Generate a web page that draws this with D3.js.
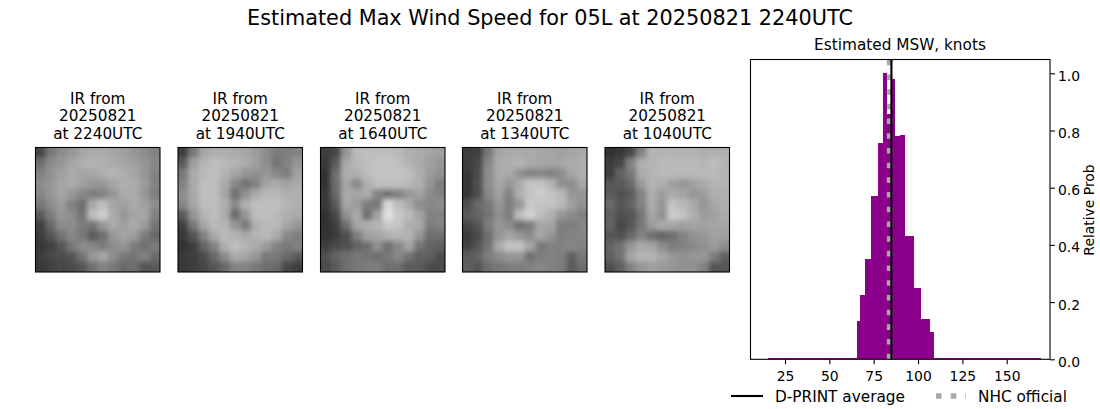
<!DOCTYPE html>
<html><head><meta charset="utf-8">
<script src="https://cdn.jsdelivr.net/npm/d3@7/dist/d3.min.js"></script>
<style>html,body{margin:0;padding:0;background:#fff}svg{display:block}text{font-family:"DejaVu Sans";fill:#000}</style>
</head><body><div id="chart"></div>
<script>
const mainTitle = "Estimated Max Wind Speed for 05L at 20250821 2240UTC";
const histTitle = "Estimated MSW, knots";
const yLabel = "Relative Prob";
const legendLabels = ["D-PRINT average", "NHC official"];
const panelTimes = ["2240UTC", "1940UTC", "1640UTC", "1340UTC", "1040UTC"];
const panelDate = "20250821";
const binEdges = [15.4,65.6,67.3,70.1,73.5,77.5,80.3,82.5,84.8,87,89.9,92.7,97.8,101.7,106.8,109,169.4];
const binProbs = [0.006,0.135,0.225,0.35,0.57,0.755,1.0,0.857,0.98,0.78,0.785,0.43,0.25,0.14,0.095,0.006];
const xTicks = [25,50,75,100,125,150];
const yTicks = [0,0.2,0.4,0.6,0.8,1.0];
const dprintAverage = 85;
const nhcOfficial = 84;
const ir2240 = [
[70,120,140,150,165,170,170,165,160,150,140,130],
[110,140,150,165,175,180,175,170,165,160,150,135],
[130,145,160,170,165,165,175,180,175,165,150,130],
[140,150,165,170,160,150,150,165,175,170,155,130],
[135,150,165,150,135,125,130,150,170,170,150,125],
[120,140,155,130,110,170,190,165,160,170,160,140],
[90,125,150,140,115,190,205,170,150,165,165,130],
[65,105,140,140,125,115,150,170,160,170,155,115],
[60,85,115,135,120,90,110,150,165,155,125,105],
[55,65,85,120,140,135,125,140,150,125,110,125],
[60,70,75,85,115,150,165,140,120,115,130,105],
[55,65,70,75,85,110,130,120,105,110,85,90]];
const ir1940 = [
[60,120,165,175,175,170,165,155,140,125,125,130],
[90,160,180,190,185,180,170,160,140,115,130,150],
[120,170,185,190,180,165,150,145,150,135,125,160],
[130,170,190,190,170,135,115,130,165,170,160,170],
[140,170,190,190,165,110,145,170,185,185,175,175],
[135,165,190,190,175,135,175,190,190,190,180,175],
[90,150,180,190,170,105,150,190,190,185,175,170],
[65,120,165,185,180,150,120,175,185,185,165,150],
[55,85,130,170,185,180,170,180,185,170,135,125],
[50,60,100,130,175,190,180,170,155,130,120,130],
[55,60,75,105,140,170,165,150,120,120,105,90],
[55,60,70,85,105,130,130,120,110,105,70,60]];
const ir1640 = [
[60,70,150,185,190,190,190,185,175,170,165,160],
[55,90,170,185,190,195,195,190,180,170,160,150],
[50,110,175,175,190,195,195,195,190,175,155,145],
[50,110,165,135,175,190,190,190,185,175,150,125],
[55,105,170,165,170,130,115,130,150,160,140,130],
[55,90,165,155,125,120,215,190,170,140,135,140],
[50,75,145,170,110,160,225,200,185,165,130,130],
[50,60,110,165,175,180,200,195,175,170,125,130],
[50,60,80,125,160,165,175,180,180,150,110,110],
[60,75,80,100,110,145,110,135,165,115,100,95],
[80,100,110,120,115,110,120,135,115,95,95,75],
[75,90,110,120,125,125,110,110,90,90,75,75]];
const ir1340 = [
[60,65,120,165,170,170,170,165,165,160,165,170],
[60,70,135,170,175,180,170,165,165,165,170,175],
[55,75,140,170,170,145,130,135,130,140,165,175],
[55,80,140,165,150,170,195,195,180,145,140,165],
[55,80,135,160,130,175,195,205,195,185,150,150],
[80,105,120,150,125,150,200,195,195,185,160,145],
[90,100,115,145,125,190,210,190,175,150,140,130],
[70,85,125,150,140,110,125,165,165,125,125,135],
[60,75,110,150,165,150,140,165,150,125,130,135],
[65,85,115,170,195,195,165,120,130,130,135,130],
[90,100,125,140,150,150,110,125,130,125,95,120],
[95,85,110,120,125,125,130,135,130,125,90,110]];
const ir1040 = [
[50,55,70,130,180,180,180,180,180,175,175,175],
[60,70,130,175,180,185,185,185,185,180,190,180],
[60,100,120,170,180,185,185,185,185,185,185,180],
[85,90,105,155,180,175,160,150,160,170,180,180],
[90,80,90,130,175,155,170,165,150,155,175,175],
[105,85,100,130,170,150,195,185,170,150,165,175],
[95,80,85,115,165,145,205,195,175,155,160,170],
[100,70,85,120,155,170,165,160,165,160,165,165],
[85,80,105,130,110,100,110,130,145,150,160,160],
[100,115,150,170,165,140,125,130,135,145,155,140],
[95,115,165,180,180,165,150,145,150,150,125,95],
[80,95,130,150,160,155,150,145,145,130,85,85]];
const irPanels = [ir2240, ir1940, ir1640, ir1340, ir1040];

const W = 1100, H = 409;
const svg = d3.select("#chart").append("svg").attr("width", W).attr("height", H);
const defs = svg.append("defs");
defs.append("filter").attr("id","soft").attr("x","-10%").attr("y","-10%").attr("width","120%").attr("height","120%")
  .append("feGaussianBlur").attr("stdDeviation", 2.4);

svg.append("text").attr("x",550).attr("y",25).attr("text-anchor","middle").style("font-size","20.8px").text(mainTitle);

// IR panels
const panelLefts = [35.5,178,320.5,462.5,605];
const panelSize = 124.5, panelTop = 147.5;
const gray = d3.scaleLinear().domain([0,255]).range(["#000","#fff"]);
irPanels.forEach((grid,p) => {
  const n = grid.length;
  const pos = d3.scaleLinear().domain([0,n]).range([0,panelSize]);
  const g = svg.append("g").attr("transform",`translate(${panelLefts[p]},${panelTop})`);
  const cid = "clip"+p;
  defs.append("clipPath").attr("id",cid).append("rect").attr("width",panelSize).attr("height",panelSize);
  const clip = g.append("g").attr("clip-path",`url(#${cid})`);
  const blur = clip.append("g").attr("filter","url(#soft)");
  const idx = d3.range(-2,n+2);
  const cl = i => Math.max(0,Math.min(n-1,i));
  idx.forEach(r => idx.forEach(c => {
    blur.append("rect").attr("x",pos(c)).attr("y",pos(r))
      .attr("width",pos(1)+0.5).attr("height",pos(1)+0.5)
      .attr("fill",gray(grid[cl(r)][cl(c)]));
  }));
  g.append("rect").attr("width",panelSize).attr("height",panelSize).attr("fill","none").attr("stroke","#000").attr("stroke-width",1.1);
  const lines = ["IR from", panelDate, "at "+panelTimes[p]];
  lines.forEach((t,i) => g.append("text").attr("x",panelSize/2).attr("y",-44+i*17.6)
    .attr("text-anchor","middle").style("font-size","15.25px").text(t));
});

// Histogram
const L=750.5,R=1050,T=59.5,B=359.3;
const x = d3.scaleLinear().domain([25,150]).range([785,1006.7]);
const y = d3.scaleLinear().domain([0,1]).range([B,73.3]);
svg.append("g").selectAll("rect").data(binProbs).join("rect")
  .attr("x",(d,i)=>x(binEdges[i])).attr("width",(d,i)=>x(binEdges[i+1])-x(binEdges[i]))
  .attr("y",d=>y(d)).attr("height",d=>y(0)-y(d)).attr("fill","#8b008b").attr("shape-rendering","crispEdges");
const nhcStroke = "#a9a9a9";
svg.append("line").attr("x1",x(nhcOfficial)).attr("x2",x(nhcOfficial)).attr("y1",B).attr("y2",T)
  .attr("stroke",nhcStroke).attr("stroke-width",5.55).attr("stroke-dasharray","5.55 9.15");
svg.append("line").attr("x1",x(dprintAverage)).attr("x2",x(dprintAverage)).attr("y1",B).attr("y2",T)
  .attr("stroke","#000").attr("stroke-width",2.1);
svg.append("rect").attr("x",L).attr("y",T).attr("width",R-L).attr("height",B-T).attr("fill","none").attr("stroke","#000").attr("stroke-width",1.1);

const xAxis = d3.axisBottom(x).tickValues(xTicks).tickSize(4.9).tickPadding(6.5);
const yAxis = d3.axisRight(y).tickValues(yTicks).tickFormat(d3.format(".1f")).tickSize(4.9).tickPadding(3);
const ax = svg.append("g").attr("transform",`translate(0,${B})`).call(xAxis);
const ay = svg.append("g").attr("transform",`translate(${R},0)`).call(yAxis);
[ax,ay].forEach(a=>{a.select(".domain").remove();a.selectAll("line").attr("stroke","#000").attr("stroke-width",1.1);
  a.selectAll("text").style("font-size","13.9px").style("font-family","DejaVu Sans");});
ay.selectAll("text").attr("dy","0.5em");

svg.append("text").attr("x",900).attr("y",50).attr("text-anchor","middle").style("font-size","15.3px").text(histTitle);
svg.append("text").attr("transform","translate(1094,210) rotate(-90)").attr("text-anchor","middle").style("font-size","13.9px").text(yLabel);

// Legend
const lg = svg.append("g");
lg.append("line").attr("x1",731).attr("x2",763).attr("y1",396).attr("y2",396).attr("stroke","#000").attr("stroke-width",2.1);
lg.append("text").attr("x",775).attr("y",402).style("font-size","15.3px").text(legendLabels[0]);
lg.append("line").attr("x1",936).attr("x2",966).attr("y1",396).attr("y2",396).attr("stroke",nhcStroke).attr("stroke-width",5.55).attr("stroke-dasharray","5.55 9.15");
lg.append("text").attr("x",978).attr("y",402).style("font-size","15.3px").text(legendLabels[1]);
</script></body></html>
